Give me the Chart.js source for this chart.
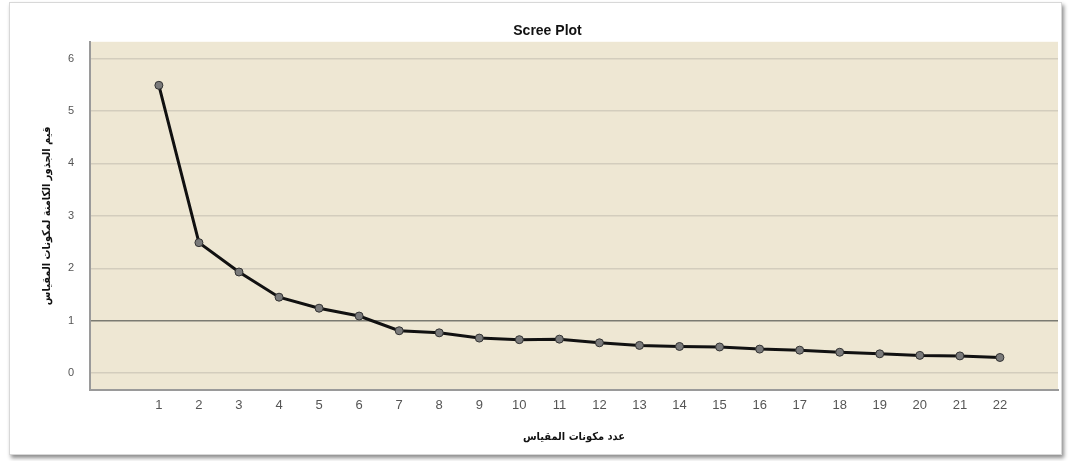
<!DOCTYPE html>
<html>
<head>
<meta charset="utf-8">
<script src="https://cdn.jsdelivr.net/npm/chart.js@4"></script>
<style>
  html,body{margin:0;padding:0;background:#fff;width:1070px;height:461px;overflow:hidden;}
  #frame{position:absolute;left:9px;top:2px;width:1051px;height:451px;border:1px solid #d8d8d8;box-shadow:2px 3px 4px rgba(0,0,0,0.45);background:#fff;}
  #wrap{position:absolute;left:0;top:0;width:1070px;height:461px;}
</style>
</head>
<body>
<div id="frame"></div>
<div id="wrap"><canvas id="c"></canvas></div>
<script>
const components = [1,2,3,4,5,6,7,8,9,10,11,12,13,14,15,16,17,18,19,20,21,22];
const eigenvalues = [5.49,2.49,1.93,1.45,1.24,1.09,0.81,0.77,0.67,0.64,0.65,0.58,0.53,0.51,0.50,0.46,0.44,0.40,0.37,0.34,0.33,0.30];
const yTicks = [0,1,2,3,4,5,6];
const titleText = 'Scree Plot';
const xTitle = 'عدد مكونات المقياس';
const yTitle = 'قيم الجذور الكامنة لمكونات المقياس';

const bgPlugin = {
  id:'plotBg',
  beforeDraw(chart){
    const {ctx, chartArea:a} = chart;
    ctx.save();
    ctx.fillStyle = '#EEE7D3';
    ctx.fillRect(a.left, a.top, a.right-a.left, a.bottom-a.top);
    ctx.restore();
  }
};

new Chart(document.getElementById('c'), {
  type:'line',
  data:{
    datasets:[{
      data: components.map((c,i)=>({x:c, y:eigenvalues[i]})),
      borderColor:'#111',
      borderWidth:3,
      pointRadius:4,
      pointBackgroundColor:'#7a7a7a',
      pointBorderColor:'#333',
      pointBorderWidth:1,
      tension:0,
      fill:false
    }]
  },
  options:{
    responsive:true,
    maintainAspectRatio:false,
    animation:false,
    devicePixelRatio:1,
    layout:{padding:{left:37,right:12,top:0,bottom:13}},
    plugins:{
      legend:{display:false},
      tooltip:{enabled:false},
      title:{display:true,text:titleText,color:'#111',font:{family:'Liberation Sans, Arial',size:14,weight:'bold'},padding:{top:23,bottom:2}}
    },
    scales:{
      x:{
        type:'linear',
        min:-0.72, max:23.45,
        afterBuildTicks(axis){ axis.ticks = components.map(v=>({value:v})); },
        afterFit(scale){ scale.height = 58; },
        grid:{display:false, drawTicks:false},
        border:{display:true,color:'#9a9a9a',width:2},
        ticks:{color:'#555',font:{family:'Liberation Sans, Arial',size:13},padding:8,maxRotation:0,autoSkip:false},
        title:{display:true,text:xTitle,color:'#111',font:{family:'DejaVu Sans Condensed, DejaVu Sans',size:11,weight:'bold'},padding:{top:8}}
      },
      y:{
        min:-0.32, max:6.32,
        afterBuildTicks(axis){ axis.ticks = yTicks.map(v=>({value:v})); },
        afterFit(scale){ scale.width = 53; },
        grid:{
          drawTicks:false,
          color(ctx){ return ctx.tick && ctx.tick.value===1 ? '#7b7b72' : '#d3cdbd'; },
          lineWidth:1.5
        },
        border:{display:true,color:'#9a9a9a',width:2},
        ticks:{color:'#555',font:{family:'Liberation Sans, Arial',size:11},padding:16},
        title:{display:true,text:yTitle,color:'#111',font:{family:'DejaVu Sans Condensed, DejaVu Sans',size:11,weight:'bold'},padding:{bottom:4}}
      }
    }
  },
  plugins:[bgPlugin]
});
</script>
</body>
</html>
